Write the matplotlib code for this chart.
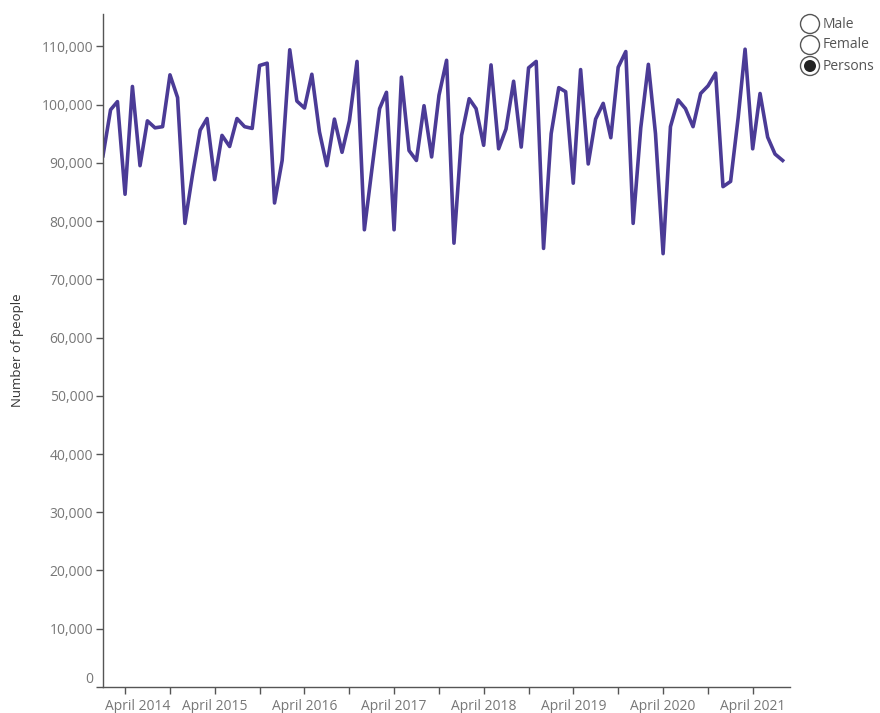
import matplotlib
matplotlib.use('Agg')
import matplotlib.pyplot as plt
import matplotlib.dates as mdates
import matplotlib.patches as mpatches
from matplotlib.ticker import FuncFormatter
from matplotlib.transforms import ScaledTranslation
import pandas as pd

plt.rcParams['font.family'] = ['Open Sans', 'DejaVu Sans']

# monthly counts, Jan 2014 - Aug 2021
months = pd.date_range('2014-01-01', '2021-08-01', freq='MS')
persons = [
    91200, 99100, 100500, 84600, 103100, 89500, 97200, 96000, 96200, 105100, 101200, 79600,
    88000, 95600, 97600, 87100, 94700, 92800, 97600, 96200, 95900, 106700, 107100, 83100,
    90400, 109400, 100600, 99400, 105200, 95300, 89500, 97500, 91800, 97200, 107400, 78500,
    89000, 99300, 102100, 78500, 104700, 92100, 90400, 99800, 91000, 101600, 107600, 76200,
    94700, 101000, 99300, 93000, 106800, 92400, 95800, 104000, 92700, 106300, 107400, 75300,
    95000, 102900, 102200, 86500, 106000, 89800, 97500, 100200, 94300, 106400, 109100, 79600,
    96000, 106900, 95000, 74400, 96200, 100800, 99300, 96200, 101900, 103200, 105400, 85900,
    86800, 97800, 109500, 92400, 101900, 94400, 91500, 90400,
]
options = ['Male', 'Female', 'Persons']
selected = 'Persons'

fig = plt.figure(figsize=(8.8, 7.13), dpi=100)
ax = fig.add_axes([0.117, 0.0365, 0.781, 0.9435])

ax.plot(months, persons, color='#4B3B96', lw=2.6)

ax.set_xlim(pd.Timestamp('2014-01-01'), pd.Timestamp('2021-09-01'))
ax.set_ylim(0, 115500)
ax.set_yticks(range(0, 110001, 10000))
ax.yaxis.set_major_formatter(FuncFormatter(lambda v, p: f'{v:,.0f}'))

ax.xaxis.set_major_locator(mdates.MonthLocator(bymonth=[4]))
ax.xaxis.set_minor_locator(mdates.MonthLocator(bymonth=[10]))
ax.xaxis.set_major_formatter(mdates.DateFormatter('April %Y'))

for s in ['top', 'right']:
    ax.spines[s].set_visible(False)
for s in ['left', 'bottom']:
    ax.spines[s].set_color('#555555')
    ax.spines[s].set_linewidth(1)

ax.tick_params(axis='both', which='both', length=5, width=1, color='#555555',
               labelcolor='#777777', labelsize=10)
ax.tick_params(axis='x', pad=4)
ax.tick_params(axis='y', pad=2)

ax.set_ylabel('Number of people', color='#333333', fontsize=9.5)
ax.yaxis.set_label_coords(-0.115, 0.5)

fig.canvas.draw()
# nudge edge labels like the original
xl = ax.get_xticklabels()[0]
xl.set_transform(xl.get_transform() + ScaledTranslation(0.13, 0, fig.dpi_scale_trans))
yl = ax.get_yticklabels()[0]
yl.set_transform(yl.get_transform() + ScaledTranslation(0, 0.095, fig.dpi_scale_trans))

# radio-button legend
for i, name in enumerate(options):
    cy = (713 - (24 + 21 * i)) / 100
    ring = mpatches.Circle((8.10, cy), 0.095, transform=fig.dpi_scale_trans,
                           facecolor='white', edgecolor='#555555', lw=1)
    fig.add_artist(ring)
    if name == selected:
        dot = mpatches.Circle((8.10, cy), 0.06, transform=fig.dpi_scale_trans,
                              facecolor='#222222', edgecolor='none')
        fig.add_artist(dot)
    fig.text(8.23 / 8.8, cy / 7.13, name, fontsize=10, color='#555555',
             va='center', ha='left')

fig.savefig('out.png', dpi=100)
